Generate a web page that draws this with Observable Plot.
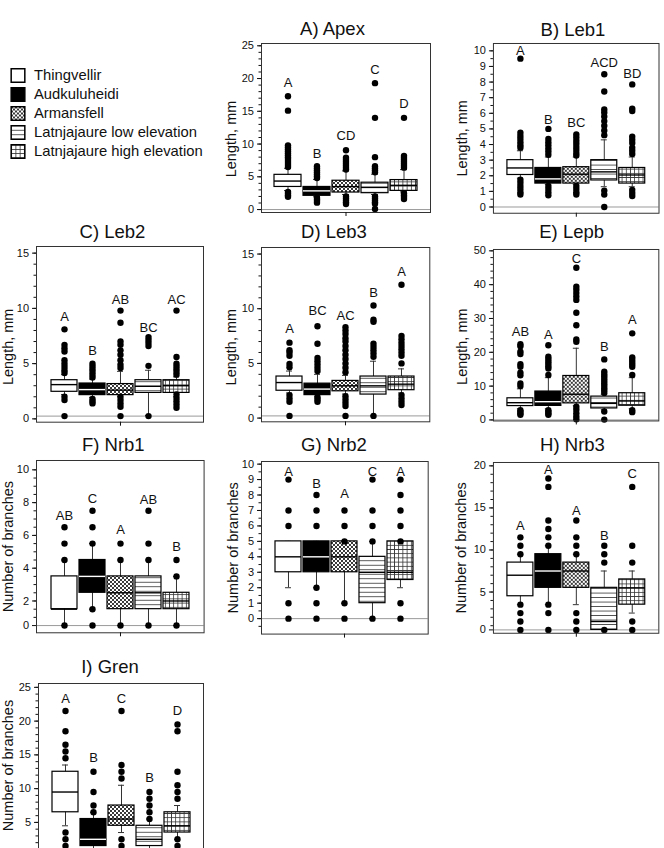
<!DOCTYPE html>
<html><head><meta charset="utf-8">
<script src="https://cdn.jsdelivr.net/npm/d3@7"></script>
<script src="https://cdn.jsdelivr.net/npm/@observablehq/plot@0.6"></script>
<style>
body{margin:0;background:#fff;}
#fig{position:relative;width:664px;height:848px;overflow:hidden;font-family:"Liberation Sans",Arial,sans-serif;color:#111;background:#fff;}
.panel{position:absolute;}
.title{position:absolute;width:200px;text-align:center;font-size:18.5px;line-height:1;white-space:nowrap;}
</style></head><body>
<svg width="0" height="0" style="position:absolute">
<defs>
<pattern id="pArm" patternUnits="userSpaceOnUse" width="4" height="4"><rect width="4" height="4" fill="white"/><path d="M0,0L4,4M4,0L0,4" stroke="#222" stroke-width="0.9"/></pattern>
<pattern id="pLow" patternUnits="userSpaceOnUse" width="4.5" height="4.5"><rect width="4.5" height="4.5" fill="white"/><path d="M0,2.25H4.5" stroke="#333" stroke-width="0.8"/></pattern>
<pattern id="pHigh" patternUnits="userSpaceOnUse" width="4.2" height="4.2"><rect width="4.2" height="4.2" fill="white"/><path d="M0,2.1H4.2M2.1,0V4.2" stroke="#333" stroke-width="0.8"/></pattern>
</defs></svg>
<div id="fig"></div>
<script>
// ---- categories ----
const groups = ["Thingvellir", "Audkuluheidi", "Armansfell", "Latnjajaure low elevation", "Latnjajaure high elevation"];
const fills = ["white", "black", "url(#pArm)", "url(#pLow)", "url(#pHigh)"];
const medianColors = ["black", "white", "black", "black", "black"];

// ---- A) Apex ----
const apexQ1 = [3.45, 2.1, 2.6, 2.5, 2.85];
const apexMed = [4.35, 2.85, 3.5, 3.4, 3.7];
const apexQ3 = [5.3, 3.45, 4.4, 4.1, 4.5];
const apexLo = [2.9, 1.95, 2.3, 2.3, 2.7];
const apexHi = [6.3, 4.6, 5.9, 5.4, 6.1];
const apexOut = [
  [17.3, 15.1, 9.8, 9.5, 9.2, 8.9, 8.6, 8.3, 8.0, 7.7, 7.4, 7.1, 6.8, 6.5, 2.7, 2.45, 2.2, 1.95],
  [6.6, 6.3, 6.0, 5.7, 5.4, 5.1, 4.8, 1.8, 1.55, 1.3, 1.05],
  [9.05, 7.9, 7.6, 7.3, 7.0, 6.7, 6.4, 6.1, 2.0, 1.7, 1.4, 1.1, 0.85],
  [19.3, 14.0, 8.0, 6.6, 6.3, 6.0, 5.7, 2.0, 1.7, 1.4, 1.1, 0.9, 0.1],
  [14.0, 8.2, 7.9, 7.6, 7.3, 7.0, 6.7, 6.4, 2.5, 2.2, 1.9, 1.6]
];
const apexLetters = ["A", "B", "CD", "C", "D"];
const apexLetterY = [19.4, 8.45, 11.25, 21.3, 16.1];
const apexTicks = [0, 5, 10, 15, 20, 25];
const apexTickLabels = ["0", "5", "10", "15", "20", "25"];

// ---- B) Leb1 ----
const leb1Q1 = [2.05, 1.5, 1.5, 1.7, 1.5];
const leb1Med = [2.5, 1.8, 2.1, 2.25, 2.05];
const leb1Q3 = [3.0, 2.5, 2.55, 3.0, 2.5];
const leb1Lo = [1.85, 1.45, 1.45, 1.3, 1.3];
const leb1Hi = [3.6, 3.2, 3.2, 4.3, 3.2];
const leb1Out = [
  [9.5, 4.75, 4.55, 4.35, 4.15, 3.95, 3.8, 1.75, 1.55, 1.35, 1.15, 0.95, 0.8],
  [5.0, 4.35, 4.15, 3.95, 3.75, 3.55, 3.35, 1.35, 1.15, 0.95, 0.75],
  [4.65, 4.45, 4.25, 4.05, 3.85, 3.65, 3.45, 3.3, 1.35, 1.15, 0.95, 0.8],
  [8.5, 7.4, 6.25, 6.05, 5.8, 5.5, 5.2, 4.9, 4.6, 1.05, 0.8, 0.0],
  [7.85, 6.3, 6.15, 4.5, 4.3, 4.1, 3.8, 3.6, 3.4, 1.1, 0.9, 0.7]
];
const leb1Letters = ["A", "B", "BC", "ACD", "BD"];
const leb1LetterY = [10.0, 5.55, 5.4, 9.2, 8.55];
const leb1Ticks = [0, 1, 2, 3, 4, 5, 6, 7, 8, 9, 10];
const leb1TickLabels = ["0", "1", "2", "3", "4", "5", "6", "7", "8", "9", "10"];

// ---- C) Leb2 ----
const leb2Q1 = [2.45, 2.15, 2.15, 2.35, 2.35];
const leb2Med = [3.1, 2.65, 2.6, 2.95, 3.0];
const leb2Q3 = [3.5, 3.2, 3.15, 3.5, 3.5];
const leb2Lo = [2.2, 1.95, 2.0, 0.3, 2.0];
const leb2Hi = [4.0, 3.6, 4.3, 4.4, 3.8];
const leb2Out = [
  [8.1, 6.7, 6.4, 6.1, 5.3, 5.0, 4.7, 4.4, 4.15, 2.0, 1.7, 0.25],
  [5.0, 4.75, 4.5, 4.25, 4.0, 3.75, 1.8, 1.6, 1.4],
  [9.8, 8.7, 7.0, 6.7, 6.2, 5.8, 5.3, 4.9, 4.6, 2.0, 1.7, 1.4, 1.1, 0.25],
  [7.4, 7.15, 6.9, 6.6, 4.8, 0.25],
  [9.8, 5.6, 5.0, 4.75, 4.5, 4.25, 4.0, 2.2, 1.9, 1.6, 1.3, 1.0]
];
const leb2Letters = ["A", "B", "AB", "BC", "AC"];
const leb2LetterY = [9.2, 6.2, 10.8, 8.25, 10.8];
const leb2Ticks = [0, 5, 10, 15];
const leb2TickLabels = ["0", "5", "10", "15"];

// ---- D) Leb3 ----
const leb3Q1 = [2.5, 2.1, 2.45, 2.15, 2.55];
const leb3Med = [3.25, 2.65, 2.95, 2.95, 3.1];
const leb3Q3 = [3.8, 3.15, 3.4, 3.8, 3.8];
const leb3Lo = [2.3, 2.0, 2.2, 0.2, 2.3];
const leb3Hi = [4.3, 4.0, 3.9, 5.2, 4.5];
const leb3Out = [
  [6.9, 6.2, 6.0, 5.7, 4.95, 4.65, 2.1, 1.8, 1.5, 0.2],
  [8.4, 6.8, 5.5, 5.2, 4.9, 4.6, 4.3, 1.9, 1.7, 1.5],
  [8.3, 8.0, 7.7, 7.3, 7.0, 6.6, 6.2, 5.8, 5.4, 5.0, 4.6, 4.2, 2.0, 1.7, 1.4, 1.1, 0.2],
  [10.3, 9.0, 8.8, 6.8, 6.5, 6.2, 5.9, 5.6, 0.2],
  [12.2, 7.5, 7.2, 6.9, 6.6, 6.3, 6.0, 5.7, 5.0, 2.1, 1.8, 1.5, 1.2]
];
const leb3Letters = ["A", "BC", "AC", "B", "A"];
const leb3LetterY = [8.15, 9.8, 9.35, 11.5, 13.4];
const leb3Ticks = [0, 5, 10, 15];
const leb3TickLabels = ["0", "5", "10", "15"];

// ---- E) Lepb ----
const lepbQ1 = [4.1, 4.15, 4.9, 3.4, 4.2];
const lepbMed = [5.1, 5.4, 7.6, 4.9, 5.6];
const lepbQ3 = [6.4, 8.4, 13.0, 6.9, 7.9];
const lepbLo = [3.3, 3.3, 4.2, 3.0, 3.3];
const lepbHi = [9.2, 12.5, 21.2, 7.6, 12.5];
const lepbOut = [
  [22.4, 21.8, 20.2, 19.5, 16.5, 15.7, 14.0, 13.2, 10.8, 10.0, 2.9, 2.4, 1.9, 1.5],
  [22.1, 18.7, 18.0, 17.3, 16.6, 15.9, 15.2, 13.3, 2.9, 2.4, 1.9, 1.5],
  [45.0, 39.4, 38.5, 37.5, 36.5, 35.5, 31.7, 28.0, 23.8, 23.1, 3.9, 3.0, 2.0, 1.0, 0.2],
  [17.9, 14.3, 13.6, 12.9, 12.2, 11.5, 10.8, 10.1, 9.4, 8.7, 8.0, 2.5, 0.1],
  [25.6, 18.5, 17.8, 17.1, 16.4, 15.7, 13.3, 2.9, 2.3]
];
const lepbLetters = ["AB", "A", "C", "B", "A"];
const lepbLetterY = [26.1, 25.1, 47.7, 21.7, 29.5];
const lepbTicks = [0, 10, 20, 30, 40, 50];
const lepbTickLabels = ["0", "10", "20", "30", "40", "50"];

// ---- F) Nrb1 ----
const nrb1Q1 = [1.5, 2.5, 1.5, 1.5, 1.5];
const nrb1Med = [1.5, 3.5, 2.5, 2.5, 2.0];
const nrb1Q3 = [3.5, 4.5, 3.5, 3.5, 2.5];
const nrb1Lo = [0.5, 1.5, 0.5, 0.5, 0.5];
const nrb1Hi = [4.5, 5.5, 4.5, 4.5, 3.5];
const nrb1Out = [
  [6.5, 5.5, 4.5, 0.5],
  [7.5, 6.5, 5.5, 1.5, 0.5],
  [5.5, 4.5, 0.5],
  [7.5, 5.5, 4.5, 0.5],
  [4.5, 3.5, 0.5]
];
const nrb1Letters = ["AB", "C", "A", "AB", "B"];
const nrb1LetterY = [7.2, 8.25, 6.35, 8.15, 5.3];
const nrb1Ticks = [0.5, 2, 4, 6, 8, 10];
const nrb1TickLabels = ["0", "2", "4", "6", "8", "10"];

// ---- G) Nrb2 ----
const nrb2Q1 = [3, 3, 3, 1, 2.5];
const nrb2Med = [4, 4, 4, 3, 3];
const nrb2Q3 = [5, 5, 5, 4, 5];
const nrb2Lo = [2, 2, 1, 0, 2];
const nrb2Hi = [5, 5, 5, 5, 5];
const nrb2Out = [
  [9, 7, 6, 1, 0],
  [8, 7, 6, 2, 1, 0],
  [7, 6, 5, 1, 0],
  [9, 7, 6, 5, 0],
  [9, 8, 7, 6, 5, 1, 0]
];
const nrb2Letters = ["A", "B", "A", "C", "A"];
const nrb2LetterY = [9.5, 8.75, 8.05, 9.5, 9.5];
const nrb2Ticks = [0, 1, 2, 3, 4, 5, 6, 7, 8, 9, 10];
const nrb2TickLabels = ["0", "1", "2", "3", "4", "5", "6", "7", "8", "9", "10"];

// ---- H) Nrb3 ----
const nrb3Q1 = [4.5, 5.5, 5.5, 0.5, 3.5];
const nrb3Med = [7.0, 7.5, 7.5, 1.5, 5.5];
const nrb3Q3 = [8.5, 9.5, 8.5, 5.5, 6.5];
const nrb3Lo = [3.5, 3.5, 3.5, 0.5, 2.5];
const nrb3Hi = [9.5, 10.5, 9.5, 7.5, 7.5];
const nrb3Out = [
  [11.5, 10.5, 9.5, 3.5, 2.5, 1.5, 0.5],
  [18.5, 17.5, 13.5, 12.5, 11.5, 10.5, 3.5, 2.5, 0.5],
  [13.5, 11.5, 10.5, 9.5, 2.5, 1.5, 0.5],
  [10.5, 9.5, 8.5, 0.5],
  [17.5, 10.5, 8.5, 1.5, 0.5]
];
const nrb3Letters = ["A", "A", "A", "B", "C"];
const nrb3LetterY = [12.9, 19.5, 14.7, 11.7, 19.0];
const nrb3Ticks = [0.5, 5, 10, 15, 20];
const nrb3TickLabels = ["0", "5", "10", "15", "20"];

// ---- I) Gren (panel runs past the bottom edge of the figure) ----
const grenQ1 = [6.5, 1.5, 4.5, 1.5, 3.5];
const grenMed = [9.5, 2.5, 5.5, 2.5, 4.5];
const grenQ3 = [12.5, 5.5, 7.5, 4.5, 6.5];
const grenLo = [4.5, 0.5, 3.5, 0.5, 2.5];
const grenHi = [13.5, 6.5, 10.5, 5.5, 7.5];
const grenOut = [
  [21.5, 18.5, 16.5, 15.5, 14.5, 3.5, 2.5, 1.5, 0.5],
  [12.5, 9.5, 7.5, 6.5, 0.5],
  [21.5, 13.5, 12.5, 11.5, 2.5, 1.5, 0.5],
  [9.5, 8.5, 7.5, 6.5, 5.5, 0.5],
  [19.5, 18.5, 12.5, 10.5, 9.5, 8.5, 2.5, 1.5, 0.5]
];
const grenLetters = ["A", "B", "C", "B", "D"];
const grenLetterY = [23.25, 14.6, 23.25, 11.65, 21.5];
const grenTicks = [5, 10, 15, 20, 25];
const grenTickLabels = ["5", "10", "15", "20", "25"];

// ---- layout ----
const FONT = "Liberation Sans, Arial, Helvetica, sans-serif";
const mL = 45, mR = 6, mT = 6, mB = 10;
const fig = document.getElementById("fig");

const panels = [
  {title: "A) Apex", q1: apexQ1, med: apexMed, q3: apexQ3, lo: apexLo, hi: apexHi, out: apexOut, letters: apexLetters, letterY: apexLetterY,
   ticks: apexTicks, tickLabels: apexTickLabels, minor: d3.range(0, 25.01, 1), yDomain: [-0.45, 25.35], zero: 0,
   ylabel: "Length, mm", ydx: -30, ydy: 11, box: [261, 42.7, 430, 211.7], tpos: [332.5, 35.7]},
  {title: "B) Leb1", q1: leb1Q1, med: leb1Med, q3: leb1Q3, lo: leb1Lo, hi: leb1Hi, out: leb1Out, letters: leb1Letters, letterY: leb1LetterY,
   ticks: leb1Ticks, tickLabels: leb1TickLabels, minor: d3.range(0, 10.01, 0.5), yDomain: [-0.4, 10.47], zero: 0,
   ylabel: "Length, mm", ydx: -31, ydy: 10, box: [492.5, 43.3, 658.3, 213.3], tpos: [573, 36.5]},
  {title: "C) Leb2", q1: leb2Q1, med: leb2Med, q3: leb2Q3, lo: leb2Lo, hi: leb2Hi, out: leb2Out, letters: leb2Letters, letterY: leb2LetterY,
   ticks: leb2Ticks, tickLabels: leb2TickLabels, minor: d3.range(0, 15.01, 1), yDomain: [-0.3, 15.6], zero: 0.25,
   ylabel: "Length, mm", ydx: -28, ydy: 12.5, box: [35.7, 246, 202.7, 421.7], tpos: [112.5, 238.3]},
  {title: "D) Leb3", q1: leb3Q1, med: leb3Med, q3: leb3Q3, lo: leb3Lo, hi: leb3Hi, out: leb3Out, letters: leb3Letters, letterY: leb3LetterY,
   ticks: leb3Ticks, tickLabels: leb3TickLabels, minor: d3.range(0, 15.01, 1), yDomain: [-0.34, 15.6], zero: 0.2,
   ylabel: "Length, mm", ydx: -30, ydy: 12.5, box: [261, 246.7, 429.3, 421], tpos: [334, 238.3]},
  {title: "E) Lepb", q1: lepbQ1, med: lepbMed, q3: lepbQ3, lo: lepbLo, hi: lepbHi, out: lepbOut, letters: lepbLetters, letterY: lepbLetterY,
   ticks: lepbTicks, tickLabels: lepbTickLabels, minor: d3.range(0, 50.01, 2), yDomain: [-0.3, 50.4], zero: 0,
   ylabel: "Length, mm", ydx: -31, ydy: 11.5, box: [492.7, 249.3, 658.3, 421], tpos: [571.7, 238.3]},
  {title: "F) Nrb1", q1: nrb1Q1, med: nrb1Med, q3: nrb1Q3, lo: nrb1Lo, hi: nrb1Hi, out: nrb1Out, letters: nrb1Letters, letterY: nrb1LetterY,
   ticks: nrb1Ticks, tickLabels: nrb1TickLabels, minor: d3.range(1, 10.01, 0.5), yDomain: [0.06, 10.57], zero: 0.5,
   ylabel: "Number of branches", ydx: -28, ydy: 0, box: [35.7, 460, 203.3, 632.3], tpos: [113.3, 451.7]},
  {title: "G) Nrb2", q1: nrb2Q1, med: nrb2Med, q3: nrb2Q3, lo: nrb2Lo, hi: nrb2Hi, out: nrb2Out, letters: nrb2Letters, letterY: nrb2LetterY,
   ticks: nrb2Ticks, tickLabels: nrb2TickLabels, minor: d3.range(-0.5, 10.01, 0.5), yDomain: [-1.0, 10.17], zero: 0,
   ylabel: "Number of branches", ydx: -28.5, ydy: 0, box: [261, 460.7, 427.7, 633.3], tpos: [334, 451.7]},
  {title: "H) Nrb3", q1: nrb3Q1, med: nrb3Med, q3: nrb3Q3, lo: nrb3Lo, hi: nrb3Hi, out: nrb3Out, letters: nrb3Letters, letterY: nrb3LetterY,
   ticks: nrb3Ticks, tickLabels: nrb3TickLabels, minor: d3.range(1, 20.01, 1), yDomain: [0.1, 20.4], zero: 0.5,
   ylabel: "Number of branches", ydx: -32, ydy: 0, box: [492.7, 461.7, 658.3, 632.7], tpos: [572.5, 451.7]},
  {title: "I) Gren", q1: grenQ1, med: grenMed, q3: grenQ3, lo: grenLo, hi: grenHi, out: grenOut, letters: grenLetters, letterY: grenLetterY,
   ticks: grenTicks, tickLabels: grenTickLabels, minor: d3.range(1, 25.01, 1), yDomain: [0.1, 25.57], zero: 0.5,
   ylabel: "Number of branches", ydx: -30, ydy: -4, box: [37.7, 682.7, 202.7, 854.7], tpos: [110, 673.3]}
];

function drawPanel(p) {
  const stats = groups.map((g, i) => ({
    group: g, q1: p.q1[i], med: p.med[i], q3: p.q3[i], lo: p.lo[i], hi: p.hi[i],
    letter: p.letters[i], ly: p.letterY[i], fill: fills[i], mc: medianColors[i]
  }));
  const pts = groups.flatMap((g, i) => p.out[i].map(v => ({group: g, v})));
  const lab = new Map(p.ticks.map((t, i) => [t, p.tickLabels[i]]));
  const [L, T, R, B] = p.box;
  const w = R - L, h = B - T;
  const svg = Plot.plot({
    width: w + mL + mR, height: h + mT + mB,
    marginLeft: mL, marginRight: mR, marginTop: mT, marginBottom: mB,
    style: {fontFamily: FONT, fontSize: "11px", color: "#111", background: "transparent", overflow: "visible"},
    x: {domain: groups, paddingInner: 0.08, paddingOuter: 0.45, axis: null, label: null},
    y: {domain: p.yDomain, axis: null, label: null},
    color: {type: "identity"},
    marks: [
      Plot.ruleY([p.zero], {stroke: "#9a9a9a", strokeWidth: 1}),
      Plot.ruleX(stats, {x: "group", y1: "lo", y2: "hi", stroke: "#333", strokeWidth: 1}),
      Plot.tickY(stats, {x: "group", y: "lo", insetLeft: 10, insetRight: 10, stroke: "#333"}),
      Plot.tickY(stats, {x: "group", y: "hi", insetLeft: 10, insetRight: 10, stroke: "#333"}),
      Plot.barY(stats, {x: "group", y1: "q1", y2: "q3", fill: "fill", stroke: "black", strokeWidth: 1.2}),
      Plot.tickY(stats, {x: "group", y: "med", stroke: "mc", strokeWidth: 1.4}),
      Plot.dot(pts, {x: "group", y: "v", r: 3.2, fill: "black"}),
      Plot.text(stats, {x: "group", y: "ly", text: "letter", fontSize: 13, fill: "#111"}),
      Plot.frame({stroke: "#333", strokeWidth: 1}),
      Plot.axisY(p.ticks, {tickSize: 4, tickPadding: 3.5, fontSize: 11, tickFormat: d => lab.get(d), label: null}),
      Plot.axisY(p.minor, {tickSize: 2.5, tickFormat: () => "", label: null}),
      Plot.axisX([groups[2]], {tickSize: 4, tickFormat: () => "", label: null}),
      Plot.text([p.ylabel], {text: d => d, frameAnchor: "left", textAnchor: "middle", lineAnchor: "middle", rotate: -90, dx: p.ydx, dy: p.ydy, fontSize: 14.5, fill: "#111"})
    ]
  });
  const div = document.createElement("div");
  div.className = "panel";
  div.style.left = (L - mL) + "px";
  div.style.top = (T - mT) + "px";
  div.appendChild(svg);
  fig.appendChild(div);
  const t = document.createElement("div");
  t.className = "title";
  t.textContent = p.title;
  t.style.left = (p.tpos[0] - 100) + "px";
  t.style.top = (p.tpos[1] - 15.7) + "px";
  fig.appendChild(t);
}
panels.forEach(drawPanel);

// ---- legend ----
const legend = Plot.plot({
  width: 220, height: 110, margin: 0,
  style: {fontFamily: FONT, background: "transparent", color: "#111", overflow: "visible"},
  x: {type: "identity", axis: null},
  y: {type: "point", domain: groups, range: [14.5, 92.1], padding: 0, axis: null},
  color: {type: "identity"},
  marks: [
    Plot.dot(groups, {x: 17.5, y: d => d, symbol: "square", r: 7.7, fill: d => fills[groups.indexOf(d)], stroke: "black", strokeWidth: 1.5}),
    Plot.text(groups, {x: 33.5, y: d => d, text: d => d, textAnchor: "start", fontSize: 14.8, fill: "#111"})
  ]
});
const ld = document.createElement("div");
ld.className = "panel";
ld.style.left = "0px";
ld.style.top = "60px";
ld.appendChild(legend);
fig.appendChild(ld);
</script>
</body></html>
